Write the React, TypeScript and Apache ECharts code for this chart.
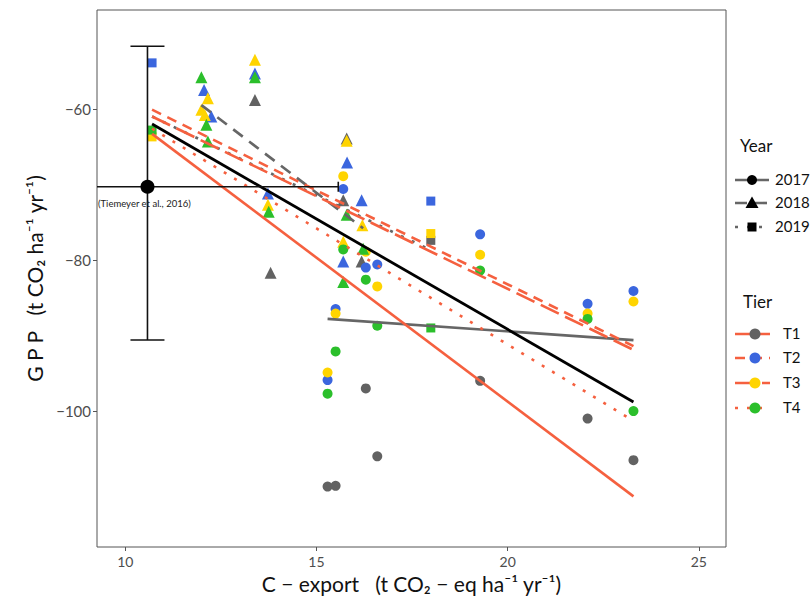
import React, { useEffect, useRef } from 'react';
import * as echarts from 'echarts';

// ---- data ----
const xTicks = [10, 15, 20, 25];
const yTicks = [-100, -80, -60];

// [C-export, GPP]
const t1_2017 = [[15.29, -110.0], [15.5, -109.9], [16.29, -97.0], [16.59, -106.0], [19.28, -96.0], [22.09, -101.0], [23.29, -106.5]];
const t2_2017 = [[15.29, -95.9], [15.5, -86.5], [15.7, -70.6], [16.29, -81.0], [16.59, -80.6], [19.28, -76.6], [22.09, -85.8], [23.29, -84.1]];
const t3_2017 = [[15.29, -94.9], [15.5, -87.1], [15.7, -68.9], [16.29, -78.9], [16.59, -83.5], [19.28, -79.3], [22.09, -87.1], [23.29, -85.5]];
const t4_2017 = [[15.29, -97.7], [15.5, -92.1], [15.7, -78.6], [16.29, -82.6], [16.59, -88.7], [19.28, -81.4], [22.09, -87.8], [23.29, -100.0]];

const t1_2018 = [[13.39, -58.8], [13.8, -81.7], [15.79, -63.9], [15.7, -72.1], [16.18, -80.2]];
const t2_2018 = [[12.06, -57.5], [12.25, -61.0], [13.39, -55.3], [13.73, -71.2], [15.8, -67.1], [15.7, -80.2], [16.18, -72.1]];
const t3_2018 = [[11.99, -60.1], [12.16, -58.6], [12.08, -60.8], [13.39, -53.5], [13.73, -72.7], [15.79, -64.2], [15.7, -77.6], [16.2, -75.4]];
const t4_2018 = [[11.99, -55.8], [12.12, -62.1], [12.16, -64.3], [13.39, -55.8], [13.75, -73.6], [15.79, -74.0], [15.7, -82.9], [16.22, -78.5]];

const t1_2019 = [[17.99, -77.4]];
const t2_2019 = [[10.7, -53.9], [17.99, -72.2]];
const t3_2019 = [[10.7, -63.7], [17.99, -76.5]];
const t4_2019 = [[10.7, -62.8], [17.99, -89.0]];

// regression line end points
const fitAll = [[10.7, -62.0], [23.29, -98.8]];
const fit2017 = [[15.29, -87.8], [23.29, -90.6]];
const fit2018 = [[11.99, -59.5], [16.22, -75.8]];
const fit2019 = [[10.7, -61.0], [17.99, -78.7]];
const fitT1 = [[10.7, -63.3], [23.29, -111.3]];
const fitT2 = [[10.7, -60.1], [23.29, -91.4]];
const fitT3 = [[10.7, -61.0], [23.29, -91.9]];
const fitT4 = [[10.7, -62.6], [23.29, -101.3]];

// Tiemeyer et al. 2016: [x, y, xLow, xHigh, yLow, yHigh]
const tiemeyer = [[10.58, -70.3, 5.59, 15.57, -90.6, -51.7]];

const yearNames = ['2017', '2018', '2019'];
const tierNames = ['T1', 'T2', 'T3', 'T4'];

// ---- styles ----
const FONT = 'Lato, "Open Sans", "DejaVu Sans", sans-serif';
const tierColors = ['#626262', '#3b66de', '#ffd400', '#2bbf2b'];
const RED = '#f5603f';
const GREY_LINE = '#666666';
const yearSymbols = ['circle', 'triangle', 'rect'];
const yearSymbolSizes = [10, 12, 9];
const yearDash: any[] = ['solid', [12, 8], [3, 9]];
const tierDash: any[] = ['solid', [10, 7], [20, 7], [3, 9]];

const pointsByTier = [
  [t1_2017, t1_2018, t1_2019],
  [t2_2017, t2_2018, t2_2019],
  [t3_2017, t3_2018, t3_2019],
  [t4_2017, t4_2018, t4_2019],
];

const minus = (v: number) => (v < 0 ? '\u2212' + Math.abs(v) : String(v));

export default function App() {
  const ref = useRef<HTMLDivElement>(null);
  useEffect(() => {
    document.body.style.margin = '0';
    if (!ref.current) return;
    const chart = echarts.init(ref.current, undefined, { renderer: 'svg' });

    const series: any[] = [];
    pointsByTier.forEach((years, ti) => {
      years.forEach((data, yi) => {
        series.push({
          type: 'scatter',
          name: tierNames[ti] + ' ' + yearNames[yi],
          data,
          symbol: yearSymbols[yi],
          symbolSize: yearSymbolSizes[yi],
          itemStyle: { color: tierColors[ti], opacity: 1 },
          silent: true,
          z: 2,
        });
      });
    });

    const lineSeries = (data: number[][], color: string, width: number, type: any) => ({
      type: 'line',
      data,
      symbol: 'none',
      showSymbol: false,
      silent: true,
      z: 3,
      lineStyle: { color, width, type, cap: 'butt' },
    });

    [fit2017, fit2018, fit2019].forEach((f, i) => series.push(lineSeries(f, GREY_LINE, 2.7, yearDash[i])));
    [fitT1, fitT2, fitT3, fitT4].forEach((f, i) => series.push(lineSeries(f, RED, 2.6, tierDash[i])));
    series.push(lineSeries(fitAll, '#000', 2.8, 'solid'));

    series.push({
      type: 'custom',
      data: tiemeyer,
      silent: true,
      z: 4,
      renderItem: (params: any, api: any) => {
        const x = api.value(0), y = api.value(1);
        const c = api.coord([x, y]);
        const lo = api.coord([x, api.value(4)]);
        const hi = api.coord([x, api.value(5)]);
        const xl = api.coord([api.value(2), y]);
        const xr = api.coord([api.value(3), y]);
        const left = Math.max(xl[0], params.coordSys.x);
        const st = { stroke: '#111', lineWidth: 1.6 };
        return {
          type: 'group',
          children: [
            { type: 'line', shape: { x1: c[0], y1: lo[1], x2: c[0], y2: hi[1] }, style: st },
            { type: 'line', shape: { x1: c[0] - 17, y1: lo[1], x2: c[0] + 17, y2: lo[1] }, style: st },
            { type: 'line', shape: { x1: c[0] - 17, y1: hi[1], x2: c[0] + 17, y2: hi[1] }, style: st },
            { type: 'line', shape: { x1: left, y1: c[1], x2: xr[0], y2: c[1] }, style: st },
            { type: 'line', shape: { x1: xr[0], y1: c[1] - 5, x2: xr[0], y2: c[1] + 5 }, style: st },
            { type: 'circle', shape: { cx: c[0], cy: c[1], r: 7 }, style: { fill: '#000' } },
            {
              type: 'text',
              x: left + 1,
              y: c[1] + 17,
              style: { text: '(Tiemeyer et al., 2016)', fontSize: 9.5, fill: '#222', fontFamily: FONT, verticalAlign: 'middle' },
            },
          ],
        };
      },
    });

    // legend drawn with graphic elements
    const g: any[] = [];
    g.push({ type: 'text', left: 740, top: 137, style: { text: 'Year', fontSize: 17, fill: '#111', fontFamily: FONT } });
    const yearY = [180, 203, 227];
    yearNames.forEach((n, i) => {
      const y = yearY[i];
      g.push({ type: 'line', shape: { x1: 735, y1: y, x2: 769, y2: y }, style: { stroke: GREY_LINE, lineWidth: 2.6, lineDash: i === 0 ? null : yearDash[i] } });
      if (i === 0) g.push({ type: 'circle', shape: { cx: 752, cy: y, r: 5 }, style: { fill: '#000' } });
      if (i === 1) g.push({ type: 'polygon', shape: { points: [[752, y - 6.5], [745.5, y + 5], [758.5, y + 5]] }, style: { fill: '#000' } });
      if (i === 2) g.push({ type: 'rect', shape: { x: 747.5, y: y - 4.5, width: 9, height: 9 }, style: { fill: '#000' } });
      g.push({ type: 'text', left: 775, top: y - 9, style: { text: n, fontSize: 15, fill: '#111', fontFamily: FONT } });
    });
    g.push({ type: 'text', left: 743, top: 293, style: { text: 'Tier', fontSize: 17, fill: '#111', fontFamily: FONT } });
    const tierY = [334, 358, 383, 408];
    tierNames.forEach((n, i) => {
      const y = tierY[i];
      g.push({ type: 'line', shape: { x1: 735, y1: y, x2: 770, y2: y }, style: { stroke: RED, lineWidth: 2.6, lineDash: i === 0 ? null : tierDash[i] } });
      g.push({ type: 'circle', shape: { cx: 755, cy: y, r: 5.5 }, style: { fill: tierColors[i] } });
      g.push({ type: 'text', left: 783, top: y - 9, style: { text: n, fontSize: 15, fill: '#111', fontFamily: FONT } });
    });

    chart.setOption({
      animation: false,
      backgroundColor: '#fff',
      textStyle: { fontFamily: FONT },
      grid: { left: 97, right: 86, top: 10, bottom: 57, show: true, borderColor: '#555', borderWidth: 1, backgroundColor: 'transparent' },
      xAxis: {
        type: 'value',
        min: 9.26,
        max: 25.71,
        splitLine: { show: false },
        axisLine: { show: false },
        axisTick: { show: true, customValues: xTicks, length: 4, lineStyle: { color: '#555' } },
        axisLabel: { customValues: xTicks, color: '#4d4d4d', fontSize: 14, margin: 7, fontFamily: FONT },
        name: 'C \u2212 export   (t CO\u2082 \u2212 eq ha\u207B\u00B9 yr\u207B\u00B9)',
        nameLocation: 'middle',
        nameGap: 23,
        nameTextStyle: { fontSize: 21, color: '#111', fontFamily: FONT },
      },
      yAxis: {
        type: 'value',
        min: -118,
        max: -46.9,
        splitLine: { show: false },
        axisLine: { show: false },
        axisTick: { show: true, customValues: yTicks, length: 4, lineStyle: { color: '#555' } },
        axisLabel: { customValues: yTicks, color: '#4d4d4d', fontSize: 15, margin: 6, fontFamily: FONT, formatter: (v: number) => minus(v) },
        name: 'G P P   (t CO\u2082 ha\u207B\u00B9 yr\u207B\u00B9)',
        nameLocation: 'middle',
        nameGap: 48,
        nameRotate: 90,
        nameTextStyle: { fontSize: 21, color: '#111', fontFamily: FONT },
      },
      graphic: g,
      series,
    });
    return () => chart.dispose();
  }, []);
  return <div ref={ref} style={{ width: 812, height: 604 }} />;
}
